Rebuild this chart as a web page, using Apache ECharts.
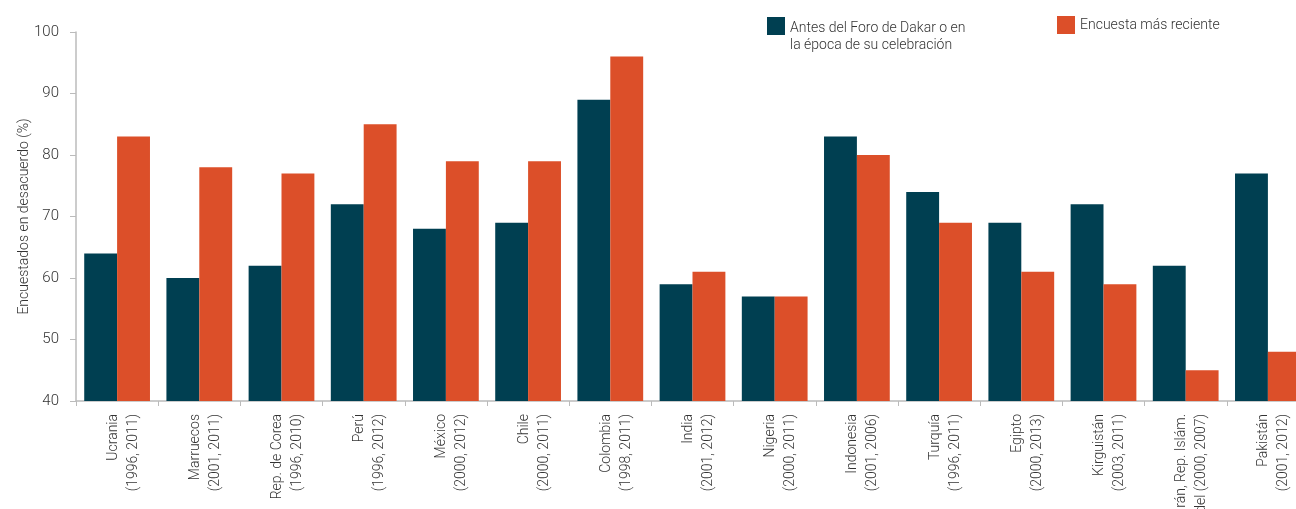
<!DOCTYPE html>
<html>
<head>
<meta charset="utf-8">
<script src="https://cdn.jsdelivr.net/npm/echarts@6/dist/echarts.min.js"></script>
<style>
  html, body { margin: 0; padding: 0; background: #fff; }
  #chart { width: 1296px; height: 509px; }
</style>
</head>
<body>
<div id="chart"></div>
<script>
// categories (country + survey years)
const paises = [
  'Ucrania\n(1996, 2011)',
  'Marruecos\n(2001, 2011)',
  'Rep. de Corea\n(1996, 2010)',
  'Perú\n(1996, 2012)',
  'México\n(2000, 2012)',
  'Chile\n(2000, 2011)',
  'Colombia\n(1998, 2011)',
  'India\n(2001, 2012)',
  'Nigeria\n(2000, 2011)',
  'Indonesia\n(2001, 2006)',
  'Turquía\n(1996, 2011)',
  'Egipto\n(2000, 2013)',
  'Kirguistán\n(2003, 2011)',
  'Irán, Rep. Islám.\ndel (2000, 2007)',
  'Pakistán\n(2001, 2012)'
]
const antesDakar = [64, 60, 62, 72, 68, 69, 89, 59, 57, 83, 74, 69, 72, 62, 77]
const masReciente = [83, 78, 77, 85, 79, 79, 96, 61, 57, 80, 69, 61, 59, 45, 48]
const serieAntes = 'Antes del Foro de Dakar o en la época de su celebración'
const serieReciente = 'Encuesta más reciente'

const colors = ['#003f51', '#dc4f29']
const fuente = 'Roboto'
const myChart = echarts.init(document.getElementById('chart'))

const txt = { fontFamily: fuente, fontSize: 14, fontWeight: 300, color: '#333' }

const option = {
  color: colors,
  animation: false,
  textStyle: { fontFamily: fuente },
  legend: [
    {
      data: [serieAntes],
      left: 767,
      top: 2,
      padding: 0,
      itemWidth: 18,
      itemHeight: 18,
      itemGap: 10,
      icon: 'rect',
      // empty first line pushes the two text lines down next to the square
      formatter: function () {
        return '{s| }\n{t|Antes del Foro de Dakar o en}\n{t|la época de su celebración}'
      },
      textStyle: Object.assign({}, txt, {
        rich: {
          s: { lineHeight: 21, fontSize: 14 },
          t: Object.assign({ lineHeight: 17 }, txt)
        }
      })
    },
    {
      data: [serieReciente],
      left: 1057,
      top: 16,
      padding: 0,
      itemWidth: 18,
      itemHeight: 18,
      icon: 'rect',
      textStyle: txt
    }
  ],
  grid: {
    left: 76,
    right: -13,
    top: 32,
    bottom: 108,
    containLabel: false,
    outerBoundsMode: 'none'
  },
  xAxis: {
    type: 'category',
    data: paises,
    axisLine: { lineStyle: { color: '#bbb', width: 1.5 } },
    axisTick: { show: true, length: 5, lineStyle: { color: '#bbb' } },
    axisLabel: Object.assign({}, txt, {
      interval: 0,
      rotate: 90,
      margin: 13,
      // blank leading line nudges the rotated two-line label a bit to the right
      formatter: function (v) {
        return '{s| }\n' + v.split('\n').map(function (l) { return '{t|' + l + '}' }).join('\n')
      },
      rich: {
        s: { lineHeight: 12, fontSize: 10 },
        t: Object.assign({ lineHeight: 20 }, txt)
      }
    })
  },
  yAxis: {
    type: 'value',
    min: 40,
    max: 100,
    interval: 10,
    name: 'Encuestados en desacuerdo (%)',
    nameLocation: 'middle',
    nameGap: 45,
    nameMoveOverlap: false,
    nameTextStyle: txt,
    splitLine: { show: false },
    axisLine: { show: true, lineStyle: { color: '#bbb', width: 1.5 } },
    axisTick: { show: true, length: 6, lineStyle: { color: '#bbb' } },
    axisLabel: Object.assign({}, txt, {
      margin: 17,
      fontSize: 15
    })
  },
  series: [
    {
      name: serieAntes,
      type: 'bar',
      data: antesDakar,
      barGap: '0%',
      barCategoryGap: '20%',
      itemStyle: { color: colors[0] }
    },
    {
      name: serieReciente,
      type: 'bar',
      data: masReciente,
      barGap: '0%',
      barCategoryGap: '20%',
      itemStyle: { color: colors[1] }
    }
  ]
}
myChart.setOption(option)
</script>
</body>
</html>
